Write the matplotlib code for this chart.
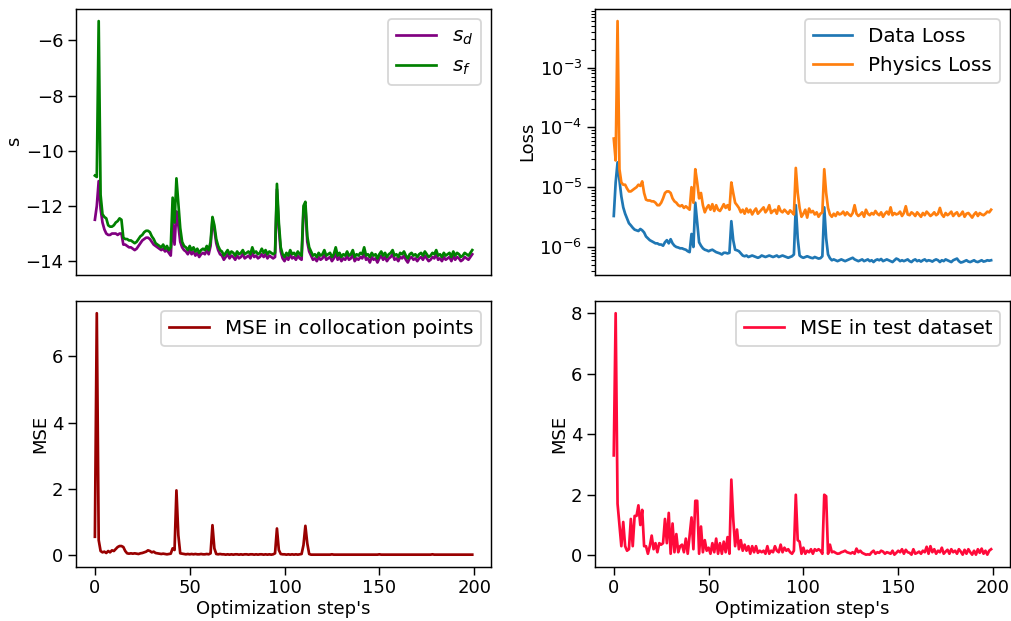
import numpy as np
import matplotlib.pyplot as plt

passos = np.arange(200)

s_f = [-10.9, -10.95, -5.3, -11.6, -12.3, -12.4, -12.45, -12.7, -12.75, -12.75,
       -12.7, -12.6, -12.55, -12.45, -12.5, -13.15, -13.2, -13.2, -13.25, -13.25,
       -13.3, -13.35, -13.3, -13.2, -13.1, -13.05, -12.95, -12.9, -12.9, -12.95,
       -13.1, -13.2, -13.35, -13.4, -13.45, -13.5, -13.4, -13.55, -13.45, -13.6,
       -13.5, -11.7, -12.6, -11.0, -11.9, -12.8, -13.3, -13.45, -13.5, -13.6,
       -13.45, -13.6, -13.5, -13.65, -13.55, -13.7, -13.6, -13.55, -13.6, -13.45,
       -13.6, -13.3, -12.4, -12.7, -13.2, -13.45, -13.6, -13.65, -13.8, -13.7,
       -13.6, -13.75, -13.65, -13.7, -13.8, -13.65, -13.75, -13.7, -13.6, -13.75,
       -13.7, -13.65, -13.75, -13.5, -13.7, -13.65, -13.75, -13.7, -13.55, -13.7,
       -13.6, -13.75, -13.65, -13.7, -13.75, -13.7, -11.2, -12.6, -13.5, -13.75,
       -13.85, -13.7, -13.8, -13.6, -13.75, -13.7, -13.8, -13.65, -13.75, -13.8,
       -12.0, -11.85, -13.1, -13.5, -13.65, -13.8, -13.75, -13.85, -13.7, -13.8,
       -13.75, -13.6, -13.8, -13.75, -13.7, -13.85, -13.75, -13.5, -13.8, -13.7,
       -13.85, -13.75, -13.8, -13.65, -13.8, -13.75, -13.6, -13.85, -13.75, -13.8,
       -13.7, -13.75, -13.5, -13.8, -13.75, -13.85, -13.7, -13.8, -13.75, -13.9,
       -13.75, -13.65, -13.8, -13.7, -13.85, -13.75, -13.7, -13.6, -13.8, -13.75,
       -13.85, -13.7, -13.75, -13.65, -13.8, -13.9, -13.75, -13.7, -13.8, -13.75,
       -13.85, -13.75, -13.7, -13.8, -13.65, -13.75, -13.85, -13.8, -13.7, -13.75,
       -13.6, -13.8, -13.75, -13.85, -13.7, -13.8, -13.75, -13.7, -13.85, -13.65,
       -13.8, -13.7, -13.75, -13.85, -13.8, -13.7, -13.75, -13.8, -13.7, -13.6]

s_d = [-12.5, -12.0, -11.1, -12.1, -12.6, -12.85, -13.0, -13.05, -13.05, -13.0,
       -13.0, -13.0, -13.05, -13.0, -13.0, -13.4, -13.4, -13.45, -13.5, -13.5,
       -13.55, -13.6, -13.55, -13.45, -13.35, -13.25, -13.2, -13.15, -13.15, -13.2,
       -13.3, -13.4, -13.45, -13.5, -13.55, -13.6, -13.55, -13.65, -13.6, -13.7,
       -13.8, -12.6, -13.4, -12.2, -12.7, -13.3, -13.5, -13.6, -13.65, -13.75,
       -13.6, -13.75, -13.65, -13.8, -13.7, -13.85, -13.75, -13.7, -13.75, -13.6,
       -13.75, -13.45, -12.5, -12.85, -13.35, -13.6, -13.75, -13.8, -13.95, -13.85,
       -13.75, -13.9, -13.8, -13.85, -13.95, -13.8, -13.9, -13.85, -13.75, -13.9,
       -13.85, -13.8, -13.9, -13.7, -13.85, -13.8, -13.9, -13.85, -13.75, -13.85,
       -13.75, -13.9, -13.8, -13.85, -13.9, -13.85, -11.4, -12.8, -13.65, -13.9,
       -14.0, -13.85, -13.95, -13.75, -13.9, -13.85, -13.95, -13.8, -13.9, -13.95,
       -12.2, -12.0, -13.3, -13.65, -13.8, -13.95, -13.9, -14.0, -13.85, -13.95,
       -13.9, -13.75, -13.95, -13.9, -13.85, -14.0, -13.9, -13.7, -13.95, -13.85,
       -14.0, -13.9, -13.95, -13.8, -13.95, -13.9, -13.75, -14.0, -13.9, -13.95,
       -13.85, -13.9, -13.7, -13.95, -13.9, -14.05, -13.85, -13.95, -13.9, -14.05,
       -13.9, -13.8, -13.95, -13.85, -14.0, -13.9, -13.85, -13.75, -13.95, -13.9,
       -14.0, -13.85, -13.9, -13.8, -13.95, -14.05, -13.9, -13.85, -13.95, -13.9,
       -14.0, -13.9, -13.85, -13.95, -13.8, -13.9, -14.0, -13.95, -13.85, -13.9,
       -13.75, -13.95, -13.9, -14.0, -13.85, -13.95, -13.9, -13.85, -14.0, -13.8,
       -13.95, -13.85, -13.9, -14.0, -13.95, -13.85, -13.9, -13.95, -13.85, -13.75]

# perdas em unidades de 1e-6
data_loss = [3.3, 12, 26, 13, 7.0, 4.6, 3.6, 3.0, 2.5, 2.3,
             2.1, 1.95, 1.9, 1.85, 2.0, 1.9, 1.75, 1.5, 1.4, 1.3,
             1.25, 1.2, 1.15, 1.15, 1.1, 1.1, 1.05, 1.2, 1.3, 1.15,
             1.35, 1.15, 1.05, 1.0, 0.98, 0.95, 0.95, 0.92, 0.9, 0.85,
             0.82, 1.65, 1.0, 5.5, 2.6, 1.2, 1.05, 0.95, 0.9, 0.88,
             0.85, 0.88, 0.9, 0.86, 0.82, 0.8, 0.78, 0.75, 0.8, 0.8,
             0.78, 0.8, 2.7, 1.3, 0.9, 0.88, 0.85, 0.78, 0.72, 0.7,
             0.72, 0.68, 0.7, 0.72, 0.7, 0.68, 0.66, 0.68, 0.72, 0.7,
             0.68, 0.7, 0.72, 0.7, 0.68, 0.7, 0.72, 0.68, 0.7, 0.72,
             0.7, 0.68, 0.66, 0.68, 0.7, 0.75, 5.0, 1.4, 0.72, 0.68,
             0.66, 0.68, 0.7, 0.68, 0.66, 0.65, 0.68, 0.66, 0.64, 0.65,
             0.7, 4.6, 1.4, 0.75, 0.65, 0.6, 0.62, 0.6, 0.58, 0.6,
             0.62, 0.6, 0.58, 0.6, 0.62, 0.64, 0.66, 0.62, 0.6, 0.58,
             0.6, 0.62, 0.58, 0.6, 0.62, 0.58, 0.6, 0.56, 0.6, 0.62,
             0.6, 0.63, 0.58, 0.6, 0.62, 0.6, 0.58, 0.56, 0.6, 0.64,
             0.62, 0.58, 0.6, 0.58, 0.6, 0.62, 0.58, 0.56, 0.6, 0.62,
             0.58, 0.6, 0.57, 0.6, 0.62, 0.58, 0.6, 0.59, 0.57, 0.6,
             0.62, 0.6, 0.56, 0.6, 0.58, 0.62, 0.6, 0.58, 0.56, 0.6,
             0.62, 0.64, 0.58, 0.55, 0.56, 0.58, 0.6, 0.57, 0.56, 0.58,
             0.6, 0.57, 0.56, 0.58, 0.6, 0.57, 0.58, 0.6, 0.59, 0.6]

physics_loss = [65, 28, 6000, 20, 12, 11, 11, 9.5, 8.5, 8.5,
                9.0, 9.5, 10, 11, 10.5, 12.5, 8.0, 6.2, 6.0, 6.0,
                5.8, 5.8, 5.5, 5.0, 5.0, 5.5, 6.5, 8.0, 8.5, 8.5,
                8.0, 6.5, 5.8, 5.5, 5.0, 4.8, 5.0, 4.5, 4.8, 4.5,
                4.2, 10, 5.5, 20, 12, 6.5, 8.0, 5.0, 3.8, 4.5,
                5.0, 4.2, 5.2, 4.0, 5.0, 4.2, 4.0, 4.5, 5.2, 4.5,
                5.0, 4.2, 12, 8.0, 5.5, 5.0, 4.5, 3.8, 4.2, 3.6,
                4.4, 3.8, 4.2, 3.5, 4.0, 4.4, 3.6, 3.9, 4.2, 4.6,
                3.8, 4.2, 5.0, 3.7, 4.0, 4.2, 3.6, 4.8, 4.0, 3.8,
                4.2, 3.9, 3.6, 4.1, 3.8, 3.5, 21, 8.0, 4.5, 3.2,
                3.6, 4.2, 3.1, 4.4, 3.8, 4.0, 3.5, 3.8, 3.2, 3.6,
                3.8, 20, 8.0, 4.5, 3.5, 3.2, 3.6, 3.3, 3.8, 3.5,
                3.6, 3.9, 3.4, 3.8, 3.5, 3.3, 3.7, 5.0, 3.6, 3.3,
                3.5, 3.8, 3.2, 4.2, 3.6, 3.4, 3.7, 3.5, 4.0, 3.6,
                3.4, 3.8, 3.2, 3.6, 3.9, 3.5, 4.6, 3.4, 3.7, 3.5,
                3.6, 3.9, 3.3, 3.7, 4.8, 3.5, 3.4, 3.8, 3.6, 3.3,
                3.8, 3.5, 3.2, 3.7, 3.4, 3.9, 3.6, 3.3, 3.5, 3.8,
                3.4, 3.6, 4.5, 3.5, 3.2, 3.7, 3.4, 3.6, 3.9, 3.3,
                3.6, 3.8, 3.3, 3.5, 3.9, 3.2, 3.6, 3.7, 3.4, 3.1,
                3.5, 3.8, 3.3, 3.7, 3.5, 3.4, 3.6, 3.9, 3.8, 4.2]

mse_colocacao = [0.55, 7.3, 0.45, 0.12, 0.08, 0.1, 0.06, 0.12, 0.08, 0.14,
                 0.12, 0.18, 0.24, 0.27, 0.27, 0.24, 0.12, 0.05, 0.04, 0.05,
                 0.04, 0.05, 0.04, 0.03, 0.05, 0.06, 0.08, 0.1, 0.14, 0.12,
                 0.08, 0.1, 0.06, 0.05, 0.04, 0.03, 0.04, 0.03, 0.02, 0.03,
                 0.04, 0.2, 0.15, 1.95, 0.6, 0.05, 0.04, 0.03, 0.02, 0.03,
                 0.02, 0.03, 0.02, 0.03, 0.02, 0.02, 0.03, 0.02, 0.02, 0.03,
                 0.02, 0.05, 0.9, 0.2, 0.03, 0.02, 0.03, 0.02, 0.02, 0.01,
                 0.02, 0.01, 0.02, 0.01, 0.02, 0.02, 0.01, 0.02, 0.01, 0.02,
                 0.02, 0.01, 0.02, 0.02, 0.01, 0.02, 0.01, 0.02, 0.02, 0.01,
                 0.02, 0.01, 0.02, 0.01, 0.02, 0.05, 0.8, 0.15, 0.03, 0.02,
                 0.02, 0.01, 0.02, 0.01, 0.02, 0.01, 0.02, 0.01, 0.02, 0.03,
                 0.3, 0.88, 0.35, 0.03, 0.01, 0.01, 0.01, 0.01, 0.01, 0.01,
                 0.01, 0.01, 0.01, 0.01, 0.01, 0.02, 0.01, 0.01, 0.01, 0.01,
                 0.01, 0.01, 0.01, 0.01, 0.01, 0.01, 0.01, 0.01, 0.01, 0.01,
                 0.01, 0.01, 0.01, 0.01, 0.01, 0.01, 0.01, 0.01, 0.01, 0.01,
                 0.02, 0.01, 0.01, 0.01, 0.01, 0.01, 0.01, 0.01, 0.01, 0.01,
                 0.01, 0.01, 0.01, 0.01, 0.01, 0.01, 0.01, 0.01, 0.01, 0.01,
                 0.01, 0.01, 0.01, 0.01, 0.01, 0.01, 0.01, 0.01, 0.02, 0.01,
                 0.01, 0.01, 0.01, 0.01, 0.01, 0.01, 0.01, 0.01, 0.01, 0.01,
                 0.01, 0.01, 0.01, 0.01, 0.01, 0.01, 0.01, 0.01, 0.01, 0.01]

mse_teste = [3.3, 8.0, 1.7, 1.0, 0.3, 1.1, 0.3, 0.15, 0.2, 1.2,
             0.3, 1.3, 1.3, 1.65, 1.0, 1.5, 0.3, 0.3, 0.05, 0.3,
             0.65, 0.2, 0.4, 0.1, 0.4, 0.35, 0.4, 1.2, 0.4, 1.4,
             0.05, 1.05, 0.1, 0.7, 0.1, 0.3, 0.35, 0.1, 0.55, 0.05,
             0.65, 1.25, 0.2, 1.8, 1.8, 0.05, 0.95, 0.1, 0.5, 0.15,
             0.25, 0.05, 0.4, 0.1, 0.55, 0.05, 0.4, 0.05, 0.45, 0.1,
             0.6, 0.05, 2.5, 1.2, 0.3, 0.85, 0.2, 0.5, 0.15, 0.35,
             0.15, 0.3, 0.05, 0.3, 0.1, 0.3, 0.08, 0.15, 0.1, 0.15,
             0.05, 0.3, 0.05, 0.15, 0.1, 0.3, 0.15, 0.1, 0.35, 0.1,
             0.25, 0.15, 0.2, 0.1, 0.05, 0.15, 2.0, 0.5, 0.45, 0.05,
             0.25, 0.05, 0.15, 0.1, 0.2, 0.05, 0.2, 0.15, 0.2, 0.15,
             0.05, 2.0, 1.95, 0.05, 0.35, 0.1, 0.12, 0.08, 0.05, 0.06,
             0.1, 0.12, 0.15, 0.1, 0.08, 0.06, 0.1, 0.05, 0.22, 0.1,
             0.15, 0.08, 0.05, 0.02, 0.03, 0.02, 0.1, 0.15, 0.05, 0.1,
             0.08, 0.15, 0.12, 0.05, 0.1, 0.08, 0.05, 0.15, 0.02, 0.08,
             0.15, 0.1, 0.2, 0.05, 0.18, 0.1, 0.08, 0.02, 0.2, 0.05,
             0.08, 0.12, 0.05, 0.15, 0.1, 0.28, 0.05, 0.3, 0.1, 0.2,
             0.05, 0.15, 0.1, 0.25, 0.05, 0.12, 0.18, 0.05, 0.2, 0.1,
             0.15, 0.05, 0.2, 0.12, 0.02, 0.18, 0.05, 0.2, 0.1, 0.02,
             0.15, 0.02, 0.2, 0.08, 0.22, 0.05, 0.15, 0.02, 0.15, 0.2]

plt.rcParams["xtick.major.size"] = 4.2
plt.rcParams["ytick.major.size"] = 4.2
plt.rcParams["xtick.major.pad"] = 2.8
plt.rcParams["ytick.major.pad"] = 2.8
plt.rcParams["axes.labelpad"] = 1.5

figure, axes = plt.subplots(2, 2, figsize=(1011 / 130, 621 / 130), dpi=130)
figure.subplots_adjust(left=0.0752, right=0.999, top=0.9855, bottom=0.0874,
                       wspace=0.25, hspace=0.1)

axis = axes[0, 0]
axis.plot(passos, s_d, color="purple", label="$s_d$")
axis.plot(passos, s_f, color="green", label="$s_f$")
axis.set_ylabel("s")
axis.set_xticks([])
axis.legend(loc="upper right", fontsize=11)

axis = axes[0, 1]
axis.plot(passos, np.array(data_loss) * 1e-6, label="Data Loss")
axis.plot(passos, np.array(physics_loss) * 1e-6, label="Physics Loss")
axis.set_yscale("log")
axis.set_ylabel("Loss")
axis.set_xticks([])
axis.legend(loc="upper right", fontsize=11)

axis = axes[1, 0]
axis.plot(passos, mse_colocacao, color="#990000", label="MSE in collocation points")
axis.set_ylabel("MSE")
axis.set_xlabel("Optimization step's")
axis.legend(loc="upper right", fontsize=11)

axis = axes[1, 1]
axis.plot(passos, mse_teste, color="#ff0a3a", label="MSE in test dataset")
axis.set_ylabel("MSE")
axis.set_xlabel("Optimization step's")
axis.legend(loc="upper right", fontsize=11)

figure.savefig("out.png")
